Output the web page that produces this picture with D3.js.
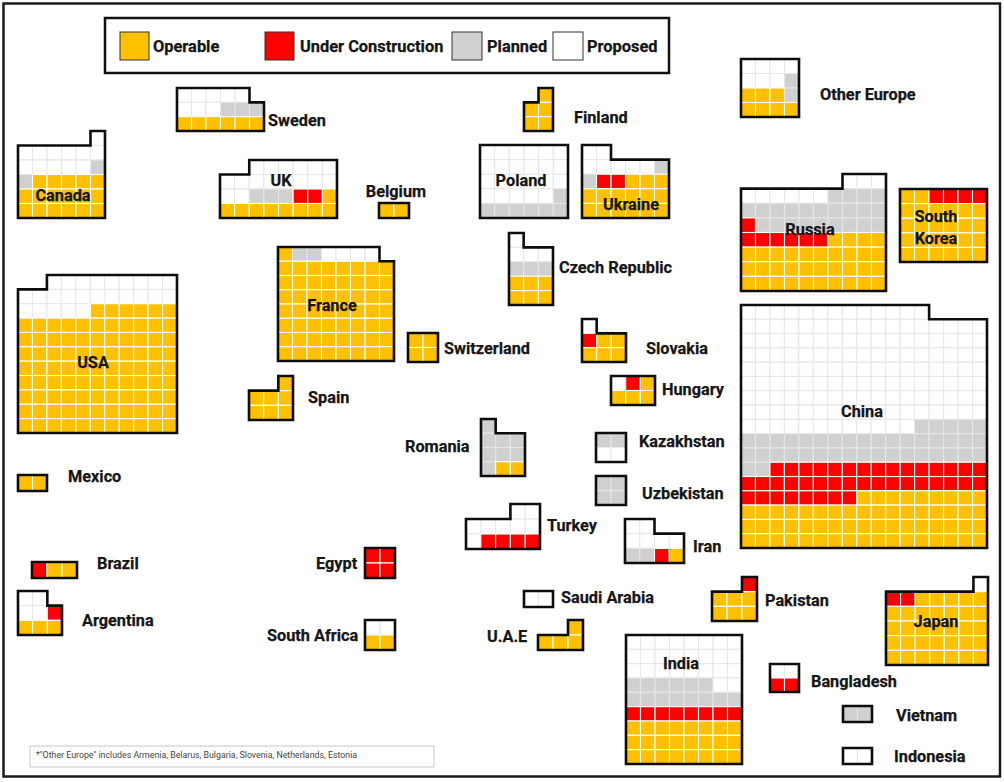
<!DOCTYPE html>
<html>
<head>
<meta charset="utf-8">
<script src="https://cdn.jsdelivr.net/npm/d3@7"></script>
<style>
  body { margin: 0; background: #fff; }
  text { font-family: Roboto, sans-serif; font-weight: 700; fill: #161616; }
  text.bold { stroke: #161616; stroke-width: 0.25px; }
</style>
</head>
<body>
<div id="chart"></div>
<script>
// Y operable, R under construction, G planned, W proposed, . no reactor
const statusCodes = ["Y", "R", "G", "W"];
const statusNames = ["Operable", "Under Construction", "Planned", "Proposed"];
const statusColors = ["#ffc000", "#ff0000", "#d0d0d0", "#ffffff"];
const cellLines = ["#ffffff", "#ffffff", "#e6e6e6", "#e8e8e8"];

const countries = ["Canada", "Sweden", "UK", "Belgium", "Finland", "Poland", "Ukraine", "Other Europe",
  "Russia", "South Korea", "China", "USA", "France", "Czech Republic", "Switzerland", "Spain",
  "Slovakia", "Hungary", "Romania", "Kazakhstan", "Uzbekistan", "Turkey", "Iran", "Mexico",
  "Brazil", "Argentina", "Egypt", "South Africa", "Saudi Arabia", "U.A.E", "Pakistan", "Japan",
  "India", "Bangladesh", "Vietnam", "Indonesia"];

const grids = [
  [".....W", "WWWWWW", "WWWWWG", "GYYYYY", "YYYYYY", "YYYYYY"],
  ["WWWWW.", "WWWGGG", "YYYYYY"],
  ["..WWWWWW", "WWWWWWWW", "WWGGGRRY", "YYYYYYYY"],
  ["YY"],
  [".Y", "YY", "YY"],
  ["WWWWWW", "WWWWWW", "WWWWWW", "WWWWWG", "GGGGGG"],
  ["WW....", "WWWWWG", "GRRYYY", "YYYYYY", "YYYYYY"],
  ["WWWW", "WWWG", "YYYG", "YYYY"],
  [".......WWW", "WWWWWWGGGG", "GGGGGGGGGG", "RGGGGGGGGG", "RRRRRRYYYY", "YYYYYYYYYY", "YYYYYYYYYY", "YYYYYYYYYY"],
  ["YYRRRR", "YYYYYY", "YYYYYY", "YYYYYY", "YYYYYY"],
  ["WWWWWWWWWWWWW....", "WWWWWWWWWWWWWWWWW", "WWWWWWWWWWWWWWWWW", "WWWWWWWWWWWWWWWWW",
   "WWWWWWWWWWWWWWWWW", "WWWWWWWWWWWWWWWWW", "WWWWWWWWWWWWWWWWW", "WWWWWWWWWWWWWWWWW",
   "WWWWWWWWWWWWGGGGG", "GGGGGGGGGGGGGGGGG", "GGGGGGGGGGGGGGGGG", "GGRRRRRRRRRRRRRRR",
   "RRRRRRRRRRRRRRRRR", "RRRRRRRRYYYYYYYYY", "YYYYYYYYYYYYYYYYY", "YYYYYYYYYYYYYYYYY", "YYYYYYYYYYYYYYYYY"],
  ["..WWWWWWWWW", "WWWWWWWWWWW", "WWWWWYYYYYY", "YYYYYYYYYYY", "YYYYYYYYYYY", "YYYYYYYYYYY",
   "YYYYYYYYYYY", "YYYYYYYYYYY", "YYYYYYYYYYY", "YYYYYYYYYYY", "YYYYYYYYYYY"],
  ["YGGWWWW.", "YYYYYYYY", "YYYYYYYY", "YYYYYYYY", "YYYYYYYY", "YYYYYYYY", "YYYYYYYY", "YYYYYYYY"],
  ["W..", "WWW", "GGG", "YYY", "YYY"],
  ["YY", "YY"],
  ["..Y", "YYY", "YYY"],
  ["W..", "RYY", "YYY"],
  ["WRY", "YYY"],
  ["G..", "GGG", "GGG", "GYY"],
  ["GG", "WW"],
  ["GG", "GG"],
  ["...WW", "WWWWW", "WRRRR"],
  ["WW..", "WWWW", "GGRY"],
  ["YY"],
  ["RYY"],
  ["WW.", "WWR", "YYY"],
  ["RR", "RR"],
  ["WW", "YY"],
  ["WW"],
  ["..Y", "YYY"],
  ["..R", "YYY", "YYY"],
  ["......W", "RRYYYYY", "YYYYYYY", "YYYYYYY", "YYYYYYY", "YYYYYYY"],
  ["WWWWWWWW", "WWWWWWWW", "WWWWWWWW", "GGGGGGWW", "GGGGGGGG", "RRRRRRRR", "YYYYYYYY", "YYYYYYYY", "YYYYYYYY"],
  ["WW", "RR"],
  ["GG"],
  ["WW"]
];

const footnote = "*\"Other Europe\" includes Armenia, Belarus, Bulgaria, Slovenia, Netherlands, Estonia";

// page layout, same order as countries: left, top, right, bottom of each block
const blocks = [
  [18, 131, 105, 218], [177, 88, 264, 131], [220, 160, 337, 218], [379, 203, 409, 218],
  [524, 88, 553, 131], [480, 145, 568, 218], [582, 145, 669, 218], [741, 59, 799, 117],
  [741, 174, 886, 291], [900, 189, 987, 262], [741, 305, 987, 548], [18, 275, 177, 433],
  [278, 247, 394, 361], [509, 233, 553, 305], [408, 333, 438, 362], [249, 376, 293, 420],
  [582, 319, 626, 362], [611, 376, 655, 405], [481, 419, 525, 476], [596, 433, 626, 462],
  [596, 476, 626, 505], [466, 504, 540, 549], [625, 519, 684, 563], [18, 475, 47, 491],
  [32, 562, 77, 578], [18, 591, 62, 635], [365, 548, 395, 578], [365, 620, 395, 650],
  [524, 591, 553, 607], [538, 620, 583, 650], [712, 577, 757, 621], [886, 577, 988, 665],
  [626, 635, 742, 764], [770, 664, 799, 692], [843, 706, 872, 722], [843, 748, 872, 764]
];

// label anchor: x, centre y, text-anchor
const labelSpots = [
  [63, 195, "middle"], [268, 120, "start"], [281, 180, "middle"], [396, 191, "middle"],
  [574, 117, "start"], [521, 180, "middle"], [631, 204, "middle"], [820, 94, "start"],
  [810, 229, "middle"], [936, 227, "middle"], [862, 411, "middle"], [93, 362, "middle"],
  [332, 305, "middle"], [559, 267, "start"], [444, 348, "start"], [308, 397, "start"],
  [646, 348, "start"], [662, 389, "start"], [405, 446, "start"], [639, 441, "start"],
  [642, 493, "start"], [547, 525, "start"], [693, 546, "start"], [68, 476, "start"],
  [97, 563, "start"], [82, 620, "start"], [316, 563, "start"], [267, 635, "start"],
  [561, 597, "start"], [487, 636, "start"], [765, 600, "start"], [936, 621, "middle"],
  [681, 663, "middle"], [811, 681, "start"], [896, 715, "start"], [894, 756, "start"]
];

const legendSwatches = [[120, 149], [265, 294], [452, 482], [553, 583]];
const legendText = [153, 300, 487, 587];

const fill = d3.scaleOrdinal().domain(statusCodes).range(statusColors);
const line = d3.scaleOrdinal().domain(statusCodes).range(cellLines);

const svg = d3.select("#chart").append("svg")
  .attr("width", 1004)
  .attr("height", 782)
  .style("display", "block");

// outer frame
svg.append("rect")
  .attr("x", 3.5).attr("y", 3.5)
  .attr("width", 996.5).attr("height", 773)
  .attr("fill", "none")
  .attr("stroke", "#1a1a1a")
  .attr("stroke-width", 2.5);

// legend
svg.append("rect")
  .attr("x", 105).attr("y", 18)
  .attr("width", 564).attr("height", 55)
  .attr("fill", "none")
  .attr("stroke", "#111")
  .attr("stroke-width", 2.5);

statusNames.forEach((name, i) => {
  svg.append("rect")
    .attr("x", legendSwatches[i][0]).attr("y", 32)
    .attr("width", legendSwatches[i][1] - legendSwatches[i][0]).attr("height", 28)
    .attr("fill", statusColors[i])
    .attr("stroke", "#333")
    .attr("stroke-width", 1);
  svg.append("text")
    .attr("class", "bold")
    .attr("x", legendText[i]).attr("y", 46)
    .attr("dy", "0.35em")
    .style("font-size", "16.4px")
    .text(name);
});

// one block per country
countries.forEach((country, i) => {
  const rows = grids[i];
  const [x0, y0, x1, y1] = blocks[i];
  const x = d3.scaleBand().domain(d3.range(rows[0].length)).range([x0, x1]);
  const y = d3.scaleBand().domain(d3.range(rows.length)).range([y0, y1]);

  const cells = rows.flatMap((row, r) =>
    row.split("").map((code, c) => ({ r, c, code })).filter(d => d.code !== "."));

  const g = svg.append("g").attr("class", "block");

  g.selectAll("rect")
    .data(cells)
    .join("rect")
      .attr("x", d => x(d.c))
      .attr("y", d => y(d.r))
      .attr("width", x.bandwidth())
      .attr("height", y.bandwidth())
      .attr("fill", d => fill(d.code))
      .attr("stroke", d => line(d.code))
      .attr("stroke-width", 1.1);

  // black outline round the filled cells only
  const has = (r, c) => rows[r] !== undefined && rows[r][c] !== undefined && rows[r][c] !== ".";
  const outline = d3.path();
  const edge = (ax, ay, bx, by) => { outline.moveTo(ax, ay); outline.lineTo(bx, by); };
  cells.forEach(d => {
    const l = x(d.c), t = y(d.r), w = x.bandwidth(), h = y.bandwidth();
    if (!has(d.r - 1, d.c)) edge(l, t, l + w, t);
    if (!has(d.r + 1, d.c)) edge(l, t + h, l + w, t + h);
    if (!has(d.r, d.c - 1)) edge(l, t, l, t + h);
    if (!has(d.r, d.c + 1)) edge(l + w, t, l + w, t + h);
  });
  g.append("path")
    .attr("d", outline.toString())
    .attr("fill", "none")
    .attr("stroke", "#0d0d0d")
    .attr("stroke-width", 2.6)
    .attr("stroke-linecap", "square");
});

// country labels go on top of every block
countries.forEach((country, i) => {
  const [lx, ly, anchor] = labelSpots[i];
  const words = country === "South Korea" ? ["South", "Korea"] : [country];
  words.forEach((word, k) => {
    svg.append("text")
      .attr("class", "bold")
      .attr("x", lx)
      .attr("y", ly + (k - (words.length - 1) / 2) * 22)
      .attr("dy", "0.35em")
      .attr("text-anchor", anchor)
      .style("font-size", "16.3px")
      .text(word);
  });
});

// footnote
svg.append("rect")
  .attr("x", 30).attr("y", 746)
  .attr("width", 404).attr("height", 21)
  .attr("fill", "#fff")
  .attr("stroke", "#c8c8c8")
  .attr("stroke-width", 1);

svg.append("text")
  .attr("x", 36).attr("y", 755)
  .attr("dy", "0.35em")
  .style("font-size", "8.8px")
  .style("font-weight", "400")
  .style("fill", "#444")
  .text(footnote);
</script>
</body>
</html>
